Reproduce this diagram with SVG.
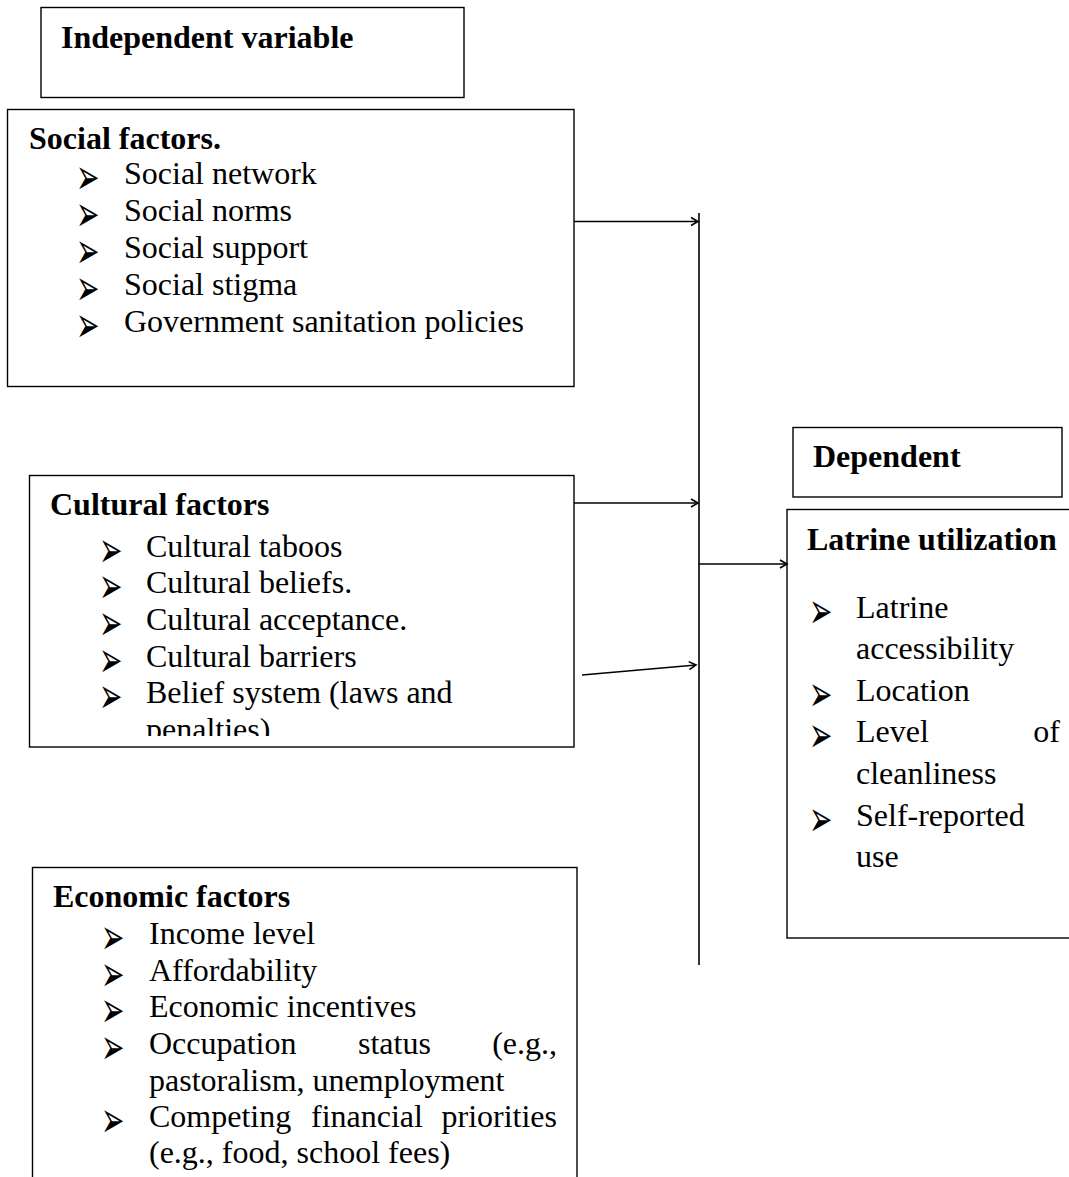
<svg xmlns="http://www.w3.org/2000/svg" xmlns:xlink="http://www.w3.org/1999/xlink" width="1069" height="1177" viewBox="0 0 1069 1177">
  <defs>
    <style>
      .box { fill: #fff; stroke: #000; stroke-width: 1.4; }
      .h { font-family: "Liberation Serif", "Times New Roman", serif; font-weight: bold; font-size: 32px; fill: #000; }
      .t { font-family: "Liberation Serif", "Times New Roman", serif; font-size: 32px; fill: #000; }
      .b { font-family: "DejaVu Sans", sans-serif; font-size: 28px; fill: #000; }
      .conn { fill: none; stroke: #000; stroke-width: 1.6; }
    </style>
    <text id="bul" class="b" x="-1" y="5.8" transform="scale(1,1.8)">➢</text>
    <marker id="arr" markerUnits="userSpaceOnUse" markerWidth="12" markerHeight="12" viewBox="0 0 12 12" refX="10" refY="6" orient="auto">
      <path d="M3,2 L10,6 L3,10" fill="none" stroke="#000" stroke-width="1.6"/>
    </marker>
    <clipPath id="clipCult">
      <rect x="29" y="475" width="545" height="261"/>
    </clipPath>
  </defs>

  <g id="independent">
    <rect class="box" x="41" y="7.5" width="423" height="90"/>
    <text class="h" x="61" y="48">Independent variable</text>
  </g>

  <g id="social">
    <rect class="box" x="7.5" y="109.5" width="566.5" height="277"/>
    <text class="h" x="29" y="149">Social factors.</text>
    <use xlink:href="#bul" href="#bul" x="77" y="184"/><text class="t" x="124" y="184">Social network</text>
    <use xlink:href="#bul" href="#bul" x="77" y="221"/><text class="t" x="124" y="221">Social norms</text>
    <use xlink:href="#bul" href="#bul" x="77" y="258"/><text class="t" x="124" y="258">Social support</text>
    <use xlink:href="#bul" href="#bul" x="77" y="295"/><text class="t" x="124" y="295">Social stigma</text>
    <use xlink:href="#bul" href="#bul" x="77" y="332"/><text class="t" x="124" y="332">Government sanitation policies</text>
  </g>

  <g id="cultural">
    <rect class="box" x="29.5" y="475.5" width="544.5" height="271.5"/>
    <text class="h" x="50" y="515">Cultural factors</text>
    <g clip-path="url(#clipCult)">
      <use xlink:href="#bul" href="#bul" x="100" y="557"/><text class="t" x="146" y="557">Cultural taboos</text>
      <use xlink:href="#bul" href="#bul" x="100" y="593"/><text class="t" x="146" y="593">Cultural beliefs.</text>
      <use xlink:href="#bul" href="#bul" x="100" y="630"/><text class="t" x="146" y="630">Cultural acceptance.</text>
      <use xlink:href="#bul" href="#bul" x="100" y="667"/><text class="t" x="146" y="667">Cultural barriers</text>
      <use xlink:href="#bul" href="#bul" x="100" y="703"/><text class="t" x="146" y="703">Belief system (laws and</text>
      <text class="t" x="146" y="740">penalties)</text>
    </g>
  </g>

  <g id="economic">
    <rect class="box" x="32.5" y="867.5" width="544.5" height="320"/>
    <text class="h" x="53" y="907">Economic factors</text>
    <use xlink:href="#bul" href="#bul" x="102" y="944"/><text class="t" x="149" y="944">Income level</text>
    <use xlink:href="#bul" href="#bul" x="102" y="981"/><text class="t" x="149" y="981">Affordability</text>
    <use xlink:href="#bul" href="#bul" x="102" y="1017"/><text class="t" x="149" y="1017">Economic incentives</text>
    <use xlink:href="#bul" href="#bul" x="102" y="1054"/><text class="t" x="149" y="1054">Occupation</text><text class="t" x="358" y="1054">status</text><text class="t" x="557" y="1054" text-anchor="end">(e.g.,</text>
    <text class="t" x="149" y="1091">pastoralism, unemployment</text>
    <use xlink:href="#bul" href="#bul" x="102" y="1127"/><text class="t" x="149" y="1127">Competing</text><text class="t" x="311" y="1127">financial</text><text class="t" x="557" y="1127" text-anchor="end">priorities</text>
    <text class="t" x="149" y="1163">(e.g., food, school fees)</text>
  </g>

  <g id="dependent">
    <rect class="box" x="793" y="427.5" width="269" height="69.5"/>
    <text class="h" x="813" y="467">Dependent</text>
  </g>

  <g id="latrine">
    <rect class="box" x="787" y="509.5" width="290" height="428.5"/>
    <text class="h" x="807" y="550">Latrine utilization</text>
    <use xlink:href="#bul" href="#bul" x="810" y="618"/><text class="t" x="856" y="618">Latrine</text>
    <text class="t" x="856" y="659">accessibility</text>
    <use xlink:href="#bul" href="#bul" x="810" y="701"/><text class="t" x="856" y="701">Location</text>
    <use xlink:href="#bul" href="#bul" x="810" y="742"/><text class="t" x="856" y="742">Level</text><text class="t" x="1060" y="742" text-anchor="end">of</text>
    <text class="t" x="856" y="784">cleanliness</text>
    <use xlink:href="#bul" href="#bul" x="810" y="826"/><text class="t" x="856" y="826">Self-reported</text>
    <text class="t" x="856" y="867">use</text>
  </g>

  <g id="connectors">
    <line class="conn" x1="699" y1="213" x2="699" y2="965"/>
    <line class="conn" x1="574" y1="221.5" x2="698" y2="221.5" marker-end="url(#arr)"/>
    <line class="conn" x1="574" y1="503" x2="698" y2="503" marker-end="url(#arr)"/>
    <line class="conn" x1="582" y1="675" x2="696" y2="665" marker-end="url(#arr)"/>
    <line class="conn" x1="699" y1="564" x2="787" y2="564" marker-end="url(#arr)"/>
  </g>
</svg>
